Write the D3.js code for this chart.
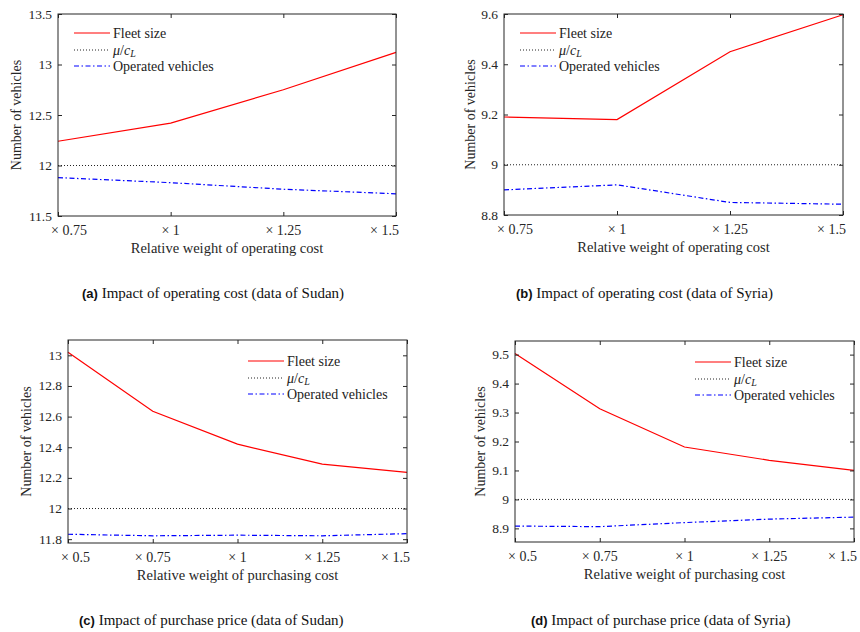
<!DOCTYPE html>
<html>
<head>
<meta charset="utf-8">
<script src="https://cdn.jsdelivr.net/npm/d3@7/dist/d3.min.js"></script>
<style>
  html, body { margin: 0; padding: 0; background: #fff; }
  svg { display: block; }
  .serif { font-family: "Liberation Serif", "DejaVu Serif", serif; }
</style>
</head>
<body>
<svg id="fig" width="860" height="632"></svg>
<script>
// Relative weights on the x axis
const xOperating = [0.75, 1, 1.25, 1.5];
const xPurchasing = [0.5, 0.75, 1, 1.25, 1.5];
const xOperatingLabels = ["× 0.75", "× 1", "× 1.25", "× 1.5"];
const xPurchasingLabels = ["× 0.5", "× 0.75", "× 1", "× 1.25", "× 1.5"];

// Fleet size and operated vehicles, varying operating cost weight
const fleetSudanOperating = [12.24, 12.42, 12.75, 13.12];
const operatedSudanOperating = [11.88, 11.83, 11.765, 11.72];
const fleetSyriaOperating = [9.19, 9.18, 9.45, 9.597];
const operatedSyriaOperating = [8.90, 8.92, 8.85, 8.843];

// Fleet size and operated vehicles, varying purchasing cost weight
const fleetSudanPurchasing = [13.02, 12.635, 12.42, 12.29, 12.236];
const operatedSudanPurchasing = [11.832, 11.822, 11.826, 11.822, 11.836];
const fleetSyriaPurchasing = [9.504, 9.313, 9.181, 9.135, 9.10];
const operatedSyriaPurchasing = [8.908, 8.906, 8.92, 8.932, 8.939];

// mu / c_L reference levels
const muOverCL = { Sudan: 12, Syria: 9 };

// Y axis ticks
const yTicksA = [11.5, 12, 12.5, 13, 13.5];
const yTicksB = [8.8, 9, 9.2, 9.4, 9.6];
const yTicksC = [11.8, 12, 12.2, 12.4, 12.6, 12.8, 13];
const yTicksD = [8.9, 9, 9.1, 9.2, 9.3, 9.4, 9.5];

const legendLabels = ["Fleet size", "mu", "Operated vehicles"];

const svg = d3.select("#fig");
const SERIF = '"Liberation Serif", "DejaVu Serif", serif';
const SANS = '"Liberation Sans", Arial, sans-serif';

const panels = [
  { box: [58, 14, 396, 216], x: xOperating, xLabels: xOperatingLabels,
    fleet: fleetSudanOperating, operated: operatedSudanOperating, mu: muOverCL.Sudan,
    yDomain: [11.5, 13.5], yTicks: yTicksA, yTitleX: 21,
    xTitle: "Relative weight of operating cost", legend: "left",
    tag: "(a)", caption: "Impact of operating cost (data of Sudan)", capX: 82, capY: 298 },
  { box: [504, 14, 843, 215], x: xOperating, xLabels: xOperatingLabels,
    fleet: fleetSyriaOperating, operated: operatedSyriaOperating, mu: muOverCL.Syria,
    yDomain: [8.8, 9.6], yTicks: yTicksB, yTitleX: 475,
    xTitle: "Relative weight of operating cost", legend: "left",
    tag: "(b)", caption: "Impact of operating cost (data of Syria)", capX: 516, capY: 298 },
  { box: [68, 340, 407, 543], x: xPurchasing, xLabels: xPurchasingLabels,
    fleet: fleetSudanPurchasing, operated: operatedSudanPurchasing, mu: muOverCL.Sudan,
    yDomain: [11.775, 13.1], yTicks: yTicksC, yTitleX: 31,
    xTitle: "Relative weight of purchasing cost", legend: "right",
    tag: "(c)", caption: "Impact of purchase price (data of Sudan)", capX: 79, capY: 625 },
  { box: [515, 341, 854, 542], x: xPurchasing, xLabels: xPurchasingLabels,
    fleet: fleetSyriaPurchasing, operated: operatedSyriaPurchasing, mu: muOverCL.Syria,
    yDomain: [8.853, 9.547], yTicks: yTicksD, yTitleX: 485,
    xTitle: "Relative weight of purchasing cost", legend: "right",
    tag: "(d)", caption: "Impact of purchase price (data of Syria)", capX: 531, capY: 625 }
];

const styles = {
  fleet: { stroke: "#ff0000", dash: "none", width: 1.2 },
  mu: { stroke: "#222222", dash: "1,2", width: 1 },
  operated: { stroke: "#0000ff", dash: "5,2.5,1.5,2.5", width: 1.2 }
};

function fmt(v) { return String(+v.toFixed(3)); }

panels.forEach(p => {
  const [x0, y0, x1, y1] = p.box;
  const g = svg.append("g");
  const x = d3.scalePoint().domain(p.x).range([x0, x1]);
  const y = d3.scaleLinear().domain(p.yDomain).range([y1, y0]);
  const tickLen = 4;

  // Lines
  const line = d3.line().x((d, i) => x(p.x[i])).y(d => y(d));
  const muSeries = p.x.map(() => p.mu);
  [["mu", muSeries], ["operated", p.operated], ["fleet", p.fleet]].forEach(([key, vals]) => {
    const s = styles[key];
    g.append("path").datum(vals).attr("d", line)
      .attr("fill", "none").attr("stroke", s.stroke).attr("stroke-width", s.width)
      .attr("stroke-dasharray", s.dash);
  });

  // Box frame
  g.append("rect").attr("x", x0).attr("y", y0).attr("width", x1 - x0).attr("height", y1 - y0)
    .attr("fill", "none").attr("stroke", "#262626").attr("stroke-width", 1);

  // Axes: ticks mirrored on all four sides, pointing inward
  const xAxis = d3.axisBottom(x).tickSizeInner(-tickLen).tickSizeOuter(0).tickFormat(() => "");
  const xAxisTop = d3.axisTop(x).tickSizeInner(-tickLen).tickSizeOuter(0).tickFormat(() => "");
  const yAxis = d3.axisLeft(y).tickValues(p.yTicks).tickSizeInner(-tickLen).tickSizeOuter(0).tickFormat(() => "");
  const yAxisR = d3.axisRight(y).tickValues(p.yTicks).tickSizeInner(-tickLen).tickSizeOuter(0).tickFormat(() => "");
  [[xAxis, `translate(0,${y1})`], [xAxisTop, `translate(0,${y0})`],
   [yAxis, `translate(${x0},0)`], [yAxisR, `translate(${x1},0)`]].forEach(([ax, tr]) => {
    const a = g.append("g").attr("transform", tr).call(ax);
    a.select(".domain").remove();
    a.selectAll(".tick line").attr("stroke", "#262626");
  });

  // X tick labels (end labels kept within the frame width)
  p.x.forEach((v, i) => {
    const last = i === p.x.length - 1;
    const first = i === 0;
    g.append("text").attr("class", "serif")
      .attr("x", first ? x(v) - 7 : last ? x(v) + 3 : x(v))
      .attr("y", y1 + 19)
      .attr("text-anchor", first ? "start" : last ? "end" : "middle")
      .attr("font-size", 14).attr("fill", "#262626")
      .text(p.xLabels[i]);
  });

  // Y tick labels
  p.yTicks.forEach(v => {
    g.append("text").attr("class", "serif")
      .attr("x", x0 - 6).attr("y", y(v) + 4.5)
      .attr("text-anchor", "end").attr("font-size", 13.5).attr("fill", "#262626")
      .text(fmt(v));
  });

  // Axis titles
  g.append("text").attr("class", "serif")
    .attr("x", (x0 + x1) / 2).attr("y", y1 + 37)
    .attr("text-anchor", "middle").attr("font-size", 14.5).attr("fill", "#262626")
    .text(p.xTitle);
  g.append("text").attr("class", "serif")
    .attr("transform", `translate(${p.yTitleX},${(y0 + y1) / 2}) rotate(-90)`)
    .attr("text-anchor", "middle").attr("font-size", 14).attr("fill", "#262626")
    .text("Number of vehicles");

  // Legend
  const lx = p.legend === "left" ? x0 + 16 : x1 - 159;
  const ly = p.legend === "left" ? y0 + 19 : y0 + 21;
  ["fleet", "mu", "operated"].forEach((key, i) => {
    const s = styles[key];
    const yy = Math.round(ly + i * 16.5);
    g.append("line").attr("x1", lx).attr("x2", lx + 36).attr("y1", yy).attr("y2", yy)
      .attr("stroke", s.stroke).attr("stroke-width", s.width).attr("stroke-dasharray", s.dash);
    const t = g.append("text").attr("class", "serif")
      .attr("x", lx + 39).attr("y", yy + 4.5).attr("font-size", 14).attr("fill", "#222");
    if (key === "mu") {
      t.append("tspan").attr("font-style", "italic").text("μ");
      t.append("tspan").text("/");
      t.append("tspan").attr("font-style", "italic").text("c");
      t.append("tspan").attr("font-style", "italic").attr("font-size", 10).attr("dy", 2.5).text("L");
    } else {
      t.text(legendLabels[i]);
    }
  });

  // Sub-figure caption
  const cap = svg.append("text").attr("x", p.capX).attr("y", p.capY).attr("fill", "#111");
  cap.append("tspan").attr("font-family", SANS).attr("font-weight", "bold").attr("font-size", 13)
    .text(p.tag);
  cap.append("tspan").attr("font-family", SERIF).attr("font-size", 15).text(" " + p.caption);
});
</script>
</body>
</html>
